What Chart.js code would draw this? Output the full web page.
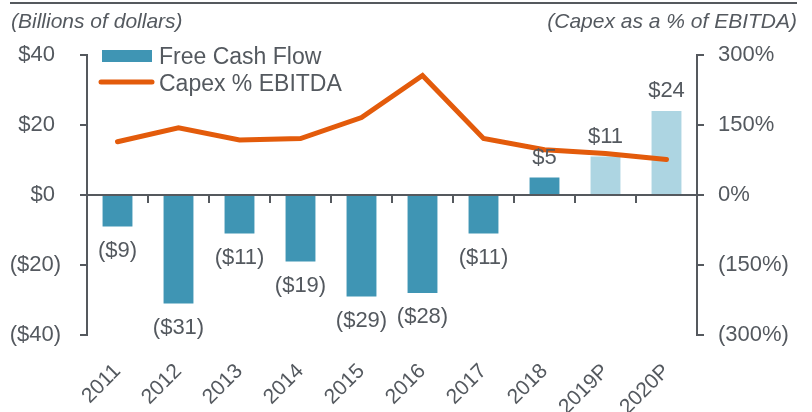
<!DOCTYPE html>
<html>
<head>
<meta charset="utf-8">
<title>Free Cash Flow vs Capex % EBITDA</title>
<script src="https://cdn.jsdelivr.net/npm/chart.js@4/dist/chart.umd.min.js"></script>
<style>
  body { margin: 0; background: #fff; }
  canvas { display: block; }
</style>
</head>
<body>
<canvas id="chart" width="812" height="412"></canvas>
<script>
// data
const years = ['2011', '2012', '2013', '2014', '2015', '2016', '2017', '2018', '2019P', '2020P'];
const freeCashFlow = [-9, -31, -11, -19, -29, -28, -11, 5, 11, 24];
const capexPctEbitda = [114, 144, 118, 121, 166, 256, 121, 97, 89, 76];
const dollarTicks = [-40, -20, 0, 20, 40];
const pctTicks = [-300, -150, 0, 150, 300];

const textColor = '#54595f';
const axisColor = '#55595e';
const barColor = '#3f95b4';
const barColorProj = '#add5e2';
const lineColor = '#e35b0b';
const fontFamily = '"Liberation Sans", Arial, Helvetica, sans-serif';

function dollarLabel(v) {
    // positive numbers get a trailing space so they line up with the ")"
    return v < 0 ? '($' + (-v) + ')' : '$' + v + ' ';
}

function pctLabel(v) {
    return v < 0 ? '(' + (-v) + '%)' : v + '%';
}

// titles, top rule and legend
const decorations = {
    id: 'decorations',
    afterDraw(chart) {
        const ctx = chart.ctx;
        ctx.save();

        ctx.strokeStyle = axisColor;
        ctx.lineWidth = 2;
        ctx.beginPath();
        ctx.moveTo(10, 3);
        ctx.lineTo(797, 3);
        ctx.stroke();

        ctx.fillStyle = textColor;
        ctx.font = 'italic 21px ' + fontFamily;
        ctx.textBaseline = 'alphabetic';
        ctx.textAlign = 'left';
        ctx.fillText('(Billions of dollars)', 11, 28);
        ctx.textAlign = 'right';
        ctx.fillText('(Capex as a % of EBITDA)', 797, 28);

        // legend
        ctx.fillStyle = barColor;
        ctx.fillRect(102, 50, 50, 12);
        ctx.strokeStyle = lineColor;
        ctx.lineWidth = 5;
        ctx.lineCap = 'round';
        ctx.beginPath();
        ctx.moveTo(101, 82);
        ctx.lineTo(152, 82);
        ctx.stroke();

        ctx.fillStyle = textColor;
        ctx.font = '23px ' + fontFamily;
        ctx.textAlign = 'left';
        ctx.fillText('Free Cash Flow', 159, 64);
        ctx.fillText('Capex % EBITDA', 159, 91);

        ctx.restore();
    }
};

// value labels on the bars
const barLabels = {
    id: 'barLabels',
    afterDatasetsDraw(chart) {
        const ctx = chart.ctx;
        const meta = chart.getDatasetMeta(0);
        ctx.save();
        ctx.fillStyle = textColor;
        ctx.font = '22px ' + fontFamily;
        ctx.textAlign = 'center';
        ctx.textBaseline = 'middle';
        meta.data.forEach((bar, i) => {
            const v = freeCashFlow[i];
            const y = v < 0 ? bar.y + 24 : bar.y - 20;
            const txt = v < 0 ? '($' + (-v) + ')' : '$' + v;
            ctx.fillText(txt, bar.x, y);
        });
        ctx.restore();
    }
};

const ctx = document.getElementById('chart').getContext('2d');
new Chart(ctx, {
    type: 'bar',
    data: {
        labels: years,
        datasets: [
            {
                type: 'bar',
                label: 'Free Cash Flow',
                data: freeCashFlow,
                backgroundColor: years.map(y => y.endsWith('P') ? barColorProj : barColor),
                barPercentage: 0.49,
                categoryPercentage: 1,
                yAxisID: 'y',
                xAxisID: 'x',
                order: 2
            },
            {
                type: 'line',
                label: 'Capex % EBITDA',
                data: capexPctEbitda,
                borderColor: lineColor,
                borderWidth: 5,
                borderCapStyle: 'round',
                pointRadius: 0,
                tension: 0,
                yAxisID: 'y1',
                xAxisID: 'x',
                order: 1
            }
        ]
    },
    options: {
        responsive: false,
        animation: false,
        devicePixelRatio: 1,
        layout: { padding: { top: 55, left: 0, right: 0, bottom: 0 } },
        plugins: {
            legend: { display: false },
            tooltip: { enabled: false }
        },
        scales: {
            x: {
                position: 'bottom',
                grid: { display: false },
                border: { display: false },
                ticks: {
                    color: textColor,
                    font: { size: 21, family: fontFamily },
                    minRotation: 45,
                    maxRotation: 45,
                    padding: 16,
                    autoSkip: false
                },
                afterFit(scale) { scale.height = 77; }
            },
            x2: {
                type: 'category',
                labels: years,
                position: { y: 0 },
                grid: {
                    offset: true,
                    drawOnChartArea: false,
                    drawTicks: true,
                    tickLength: 7,
                    color: axisColor,
                    lineWidth: 2
                },
                border: { display: true, color: axisColor, width: 2 },
                ticks: { display: false }
            },
            y: {
                position: 'left',
                min: -40,
                max: 40,
                afterBuildTicks(scale) { scale.ticks = dollarTicks.map(v => ({ value: v })); },
                grid: {
                    drawOnChartArea: false,
                    tickLength: 7,
                    color: axisColor,
                    lineWidth: 2
                },
                border: { display: true, color: axisColor, width: 2 },
                ticks: {
                    color: textColor,
                    font: { size: 22, family: fontFamily },
                    padding: 19,
                    callback: v => dollarLabel(v)
                },
                afterFit(scale) { scale.width = 87; }
            },
            y1: {
                position: 'right',
                min: -300,
                max: 300,
                afterBuildTicks(scale) { scale.ticks = pctTicks.map(v => ({ value: v })); },
                grid: {
                    drawOnChartArea: false,
                    tickLength: 7,
                    color: axisColor,
                    lineWidth: 2
                },
                border: { display: true, color: axisColor, width: 2 },
                ticks: {
                    color: textColor,
                    font: { size: 22, family: fontFamily },
                    padding: 14,
                    callback: v => pctLabel(v)
                },
                afterFit(scale) { scale.width = 115; }
            }
        }
    },
    plugins: [decorations, barLabels]
});
</script>
</body>
</html>
